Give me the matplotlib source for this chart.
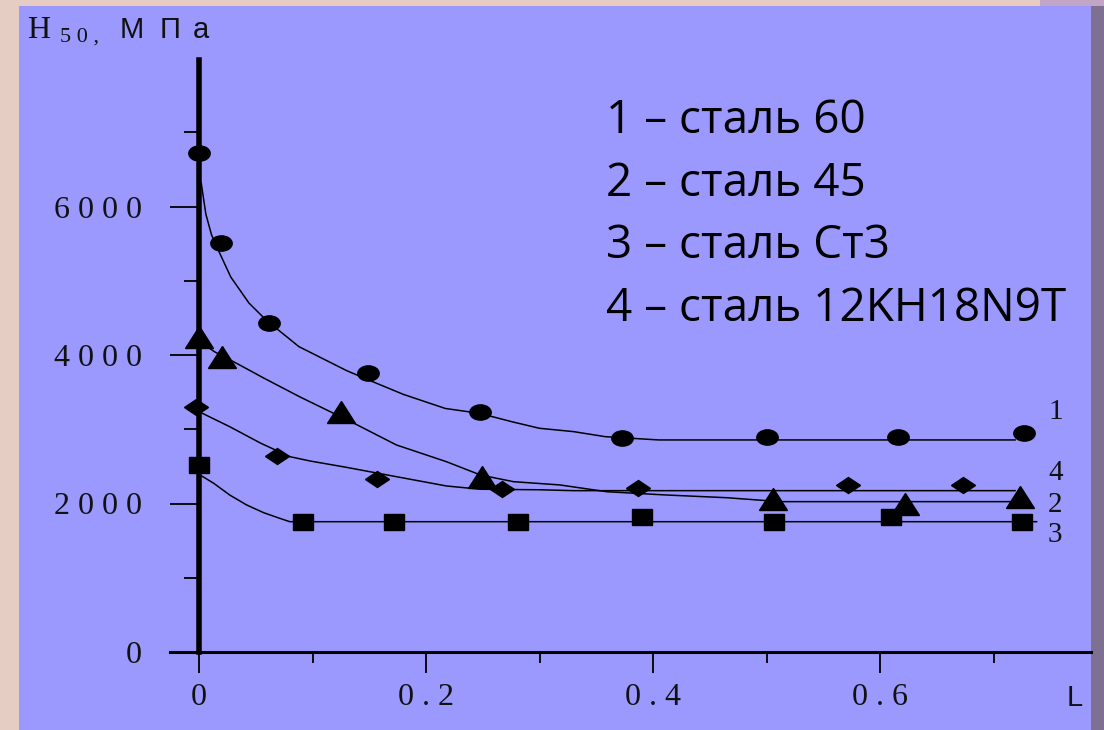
import numpy as np
import matplotlib.pyplot as plt
from matplotlib.markers import MarkerStyle
from matplotlib.transforms import Affine2D
from matplotlib.patches import Rectangle

# measured points (markers), L vs H50 [MPa]
x1 = [0.0, 0.019, 0.062, 0.149, 0.248, 0.373, 0.5, 0.616, 0.727]
y1 = [6717, 5505, 4427, 3760, 3229, 2883, 2896, 2896, 2950]
x2 = [0.0, 0.020, 0.125, 0.249, 0.506, 0.622, 0.723]
y2 = [4247, 3977, 3226, 2352, 2061, 1998, 2088]
x3 = [0.0, 0.092, 0.172, 0.281, 0.390, 0.507, 0.610, 0.725]
y3 = [2523, 1755, 1755, 1755, 1818, 1755, 1818, 1751]
x4 = [-0.003, 0.069, 0.157, 0.267, 0.387, 0.572, 0.673]
y4 = [3304, 2644, 2326, 2196, 2209, 2250, 2250]

# fitted curves
cx1 = [0.002, 0.006, 0.011, 0.018, 0.028, 0.044, 0.059, 0.088, 0.13, 0.15, 0.18, 0.217,
       0.247, 0.276, 0.30, 0.33, 0.358, 0.405, 0.719]
cy1 = [6313, 5900, 5620, 5380, 5050, 4700, 4472, 4113, 3790, 3660, 3470, 3280,
       3215, 3100, 3013, 2968, 2900, 2856, 2856]
cx2 = [0.005, 0.014, 0.033, 0.057, 0.089, 0.118, 0.136, 0.174, 0.218, 0.248,
       0.277, 0.318, 0.359, 0.411, 0.465, 0.512, 0.717]
cy2 = [4135, 4041, 3889, 3690, 3435, 3219, 3085, 2788, 2563, 2384,
       2294, 2250, 2159, 2115, 2078, 2025, 2025]
cx3 = [0.001, 0.013, 0.027, 0.042, 0.057, 0.071, 0.08, 0.738]
cy3 = [2384, 2272, 2115, 1980, 1876, 1801, 1755, 1755]
cx4 = [0.0, 0.027, 0.054, 0.08, 0.098, 0.13, 0.174, 0.218, 0.248, 0.30, 0.33, 0.719]
cy4 = [3237, 3035, 2815, 2631, 2572, 2487, 2361, 2236, 2192, 2185, 2173, 2173]

curve_ids = ['1', '4', '2', '3']
id_y = [3232, 2411, 1980, 1576]
legend_lines = ['1 – сталь 60', '2 – сталь 45', '3 – сталь Ст3', '4 – сталь 12KH18N9T']

W, H = 1104, 730
fig = plt.figure(figsize=(W / 100, H / 100), dpi=100)
fig.patch.set_facecolor('#e6cdc4')
fig.add_artist(Rectangle((1091 / W, 0), 13 / W, 1, transform=fig.transFigure,
                         facecolor='#7d7090', edgecolor='none', zorder=0))
fig.add_artist(Rectangle((1040 / W, 724 / H), 64 / W, 6 / H, transform=fig.transFigure,
                         facecolor='#c2a6c8', edgecolor='none', zorder=0))
fig.add_artist(Rectangle((19 / W, 0), 1072 / W, 724 / H, transform=fig.transFigure,
                         facecolor='#9b99fe', edgecolor='none', zorder=0))

ax = fig.add_axes([170 / W, 78 / H, 921 / W, 592 / H])
ax.set_facecolor('none')
ax.set_xlim(-29 / 1135, 892 / 1135)
ax.set_ylim(0, 592 * 2000 / 148.5)

ax.plot(cx1, cy1, color='black', lw=1.1)
ax.plot(cx2, cy2, color='black', lw=1.1)
ax.plot(cx3, cy3, color='black', lw=1.1)
ax.plot(cx4, cy4, color='black', lw=1.1)

m_circ = MarkerStyle('o', transform=Affine2D().scale(1.4, 1.0))
m_tri = MarkerStyle('^', transform=Affine2D().scale(1.25, 1.0))
m_sq = MarkerStyle('s', transform=Affine2D().scale(1.25, 1.0))
m_dia = MarkerStyle('D', transform=Affine2D().scale(1.55, 1.0))
ax.plot(x1, y1, ls='none', marker=m_circ, ms=11, color='black', clip_on=False)
ax.plot(x2, y2, ls='none', marker=m_tri, ms=16, color='black', clip_on=False)
ax.plot(x3, y3, ls='none', marker=m_sq, ms=12, color='black', clip_on=False)
ax.plot(x4, y4, ls='none', marker=m_dia, ms=8, color='black', clip_on=False)

for lab, yy in zip(curve_ids, id_y):
    ax.text(0.748, yy, lab, family='Liberation Serif', fontsize=21,
            ha='left', va='center', color='#111111')

ax.spines['top'].set_visible(False)
ax.spines['right'].set_visible(False)
ax.spines['left'].set_position(('data', 0))
ax.spines['left'].set_linewidth(4)
ax.spines['bottom'].set_linewidth(2.2)

ax.set_xticks([0, 0.2, 0.4, 0.6])
ax.set_xticklabels(['0', '0 . 2', '0 . 4', '0 . 6'])
ax.set_xticks([0.1, 0.3, 0.5, 0.7], minor=True)
ax.set_yticks([0, 2000, 4000, 6000])
ax.set_yticklabels(['0', '2 0 0 0', '4 0 0 0', '6 0 0 0'])
ax.set_yticks([1000, 3000, 5000, 7000], minor=True)
ax.tick_params(axis='x', which='major', length=15, width=1.3, pad=7)
ax.tick_params(axis='x', which='minor', length=8, width=1.3)
ax.tick_params(axis='y', which='major', length=21, width=1.3, pad=20)
ax.tick_params(axis='y', which='minor', length=10.5, width=1.3)
for t in ax.get_xticklabels() + ax.get_yticklabels():
    t.set_fontfamily('Liberation Serif')
    t.set_fontsize(23)
    t.set_color('#111111')

fig.text(1075 / W, 1 - 698 / H, 'L', family='Liberation Sans', fontsize=21,
         ha='center', va='center', color='#111111')

# axis title H50, MPa
fig.text(27 / W, 1 - 38 / H, 'H', family='Liberation Serif', fontsize=23, va='baseline', color='#111111')
fig.text(60 / W, 1 - 42 / H, '5 0 ,', family='Liberation Serif', fontsize=16, va='baseline', color='#111111')
for ch, px in zip(['М', 'П', 'а'], [120, 160, 193]):
    fig.text(px / W, 1 - 38 / H, ch, family='Liberation Sans', fontsize=21, va='baseline', color='#111111')

for i, s in enumerate(legend_lines):
    fig.text(606 / W, 1 - (133 + 62.7 * i) / H, s, family=['Open Sans', 'DejaVu Sans'],
             fontsize=33, va='baseline', color='black')

fig.savefig('out.png', dpi=100, facecolor=fig.get_facecolor())
